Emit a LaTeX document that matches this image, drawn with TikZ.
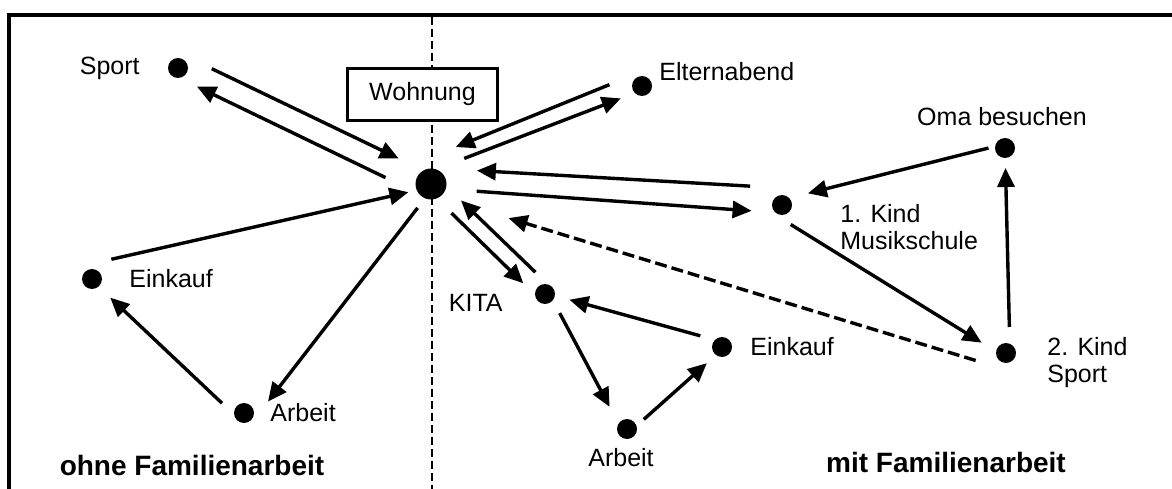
\documentclass[tikz,border=0pt]{standalone}
\usepackage{fontspec}
\setmainfont{Liberation Sans}
\usepackage{tikz}
\usetikzlibrary{arrows.meta,positioning,calc}

\begin{document}
\begin{tikzpicture}[x=1pt, y=-1pt,
    dot/.style={fill, circle, inner sep=0pt, minimum size=20pt},
    place/.style={inner sep=0pt, font=\fontsize{25}{27}\selectfont, align=left},
    title/.style={inner sep=0pt, font=\fontsize{28}{30}\selectfont\bfseries},
    arr/.style={-{Triangle[length=19pt, width=17pt]}, line width=3.4pt}]
    \useasboundingbox (0,0) rectangle (1172,489);

    % Frame and divider
    \draw[line width=4pt] (8.5,489) -- (8.5,15.5) -- (1172,15.5);
    \draw[line width=2.5pt, dash pattern=on 8pt off 4pt] (432,17) -- (432,489);

    % Home and the places
    \node[dot, minimum size=31pt] (home) at (431,184) {};
    \node[place, draw, fill=white, line width=2.7pt, minimum width=150pt, minimum height=52pt] (wohnung) at (422.5,94.5) {Wohnung};
    \node[dot] (sport) at (178,68) {};
    \node[dot] (einkaufA) at (92,279) {};
    \node[dot] (arbeitA) at (244,413) {};
    \node[dot] (elternabend) at (642,86) {};
    \node[dot] (oma) at (1005,148) {};
    \node[dot] (kindA) at (782,205) {};
    \node[dot] (kindB) at (1006,353) {};
    \node[dot] (kita) at (545,294) {};
    \node[dot] (einkaufB) at (722,347) {};
    \node[dot] (arbeitB) at (627,429) {};

    % Labels
    \node[place, left=28pt of sport] (sportlabel) {Sport};
    \node[place, right=27pt of einkaufA] (einkaufAlabel) {Einkauf};
    \node[place, right=16pt of arbeitA] (arbeitAlabel) {Arbeit};
    \node[place, right=7pt of elternabend, yshift=14pt] (elternlabel) {Elternabend};
    \node[place, above=12pt of oma, xshift=-3pt] (omalabel) {Oma besuchen};
    \node[place, anchor=north west] (kindAlabel) at ([xshift=48pt, yshift=1pt]kindA.east) {1. Kind\\Musikschule};
    \node[place, anchor=north west] (kindBlabel) at ([xshift=31pt, yshift=16pt]kindB.east) {2. Kind\\Sport};
    \node[place, left=32pt of kita, yshift=-9pt] (kitalabel) {KITA};
    \node[place, right=18pt of einkaufB] (einkaufBlabel) {Einkauf};
    \node[place, below=9pt of arbeitB, xshift=-6pt] (arbeitBlabel) {Arbeit};
    \node[title] (ohne) at (192,465) {ohne Familienarbeit};
    \node[title] (mit) at (946,462) {mit Familienarbeit};

    % Trips: from/to/offset at start/offset at end/gap at start/gap at end
    \foreach \a/\b/\os/\oe/\s/\e in {
        sport/home/14/9/31/40, home/sport/14/8.5/44/25,
        einkaufA/home/15/-3/24/24, home/arbeitA/4/12/27/24,
        arbeitA/einkaufA/8/1/23/26,
        elternabend/home/-13.5/-25/29/38, home/elternabend/12/-4/41/24.5,
        kindA/home/-17/-16/33/45, home/kindA/-4/-8/46/30,
        oma/kindA/-4/-5/16/28, kindA/kindB/-12/-4/18/26,
        kindB/oma/-4/0/26/20,
        home/kita/-6.5/-7.5/35/23, kita/home/-9/-9/22/33,
        kita/arbeitB/4/-5/24/28, arbeitB/einkaufB/-4/-2/19/22,
        einkaufB/kita/-5/-1/24/25}
        \draw[arr, shorten <=\s pt, shorten >=\e pt] ($(\a)!\os pt!90:(\b)$) -- ($(\b)!\oe pt!-90:(\a)$);
    \draw[arr, dash pattern=on 12pt off 5pt, shorten <=27pt, shorten >=84pt] ($(kindB)!16pt!90:(home)$) -- ($(home)!10pt!-90:(kindB)$);
\end{tikzpicture}
\end{document}
